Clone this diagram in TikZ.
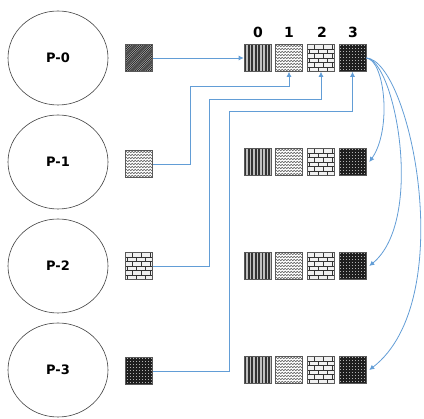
\documentclass[tikz,border=0pt]{standalone}
\usepackage{fontspec}
\setmainfont{DejaVu Sans}
\usetikzlibrary{arrows.meta,decorations.pathmorphing,shapes.geometric}

\definecolor{linkblue}{RGB}{98,157,214}

\tikzset{
  proc/.style={ellipse, draw=black!75, line width=0.6pt, minimum width=100pt,
    minimum height=94pt, inner sep=0pt, font=\fontsize{13}{15}\selectfont\bfseries},
  idx/.style={font=\fontsize{14}{16}\selectfont\bfseries, inner sep=0pt},
  tile/.style={draw=black!65, line width=0.6pt, minimum width=27pt, minimum height=27pt, inner sep=0pt},
  % vertical stripes
  stripes/.style={tile, fill=gray!50, path picture={
      \foreach \i in {0,...,7}
        \fill[black!80] ([xshift=\i*3.4pt+0.6pt]path picture bounding box.south west) rectangle ++(1.7pt,27pt);}},
  % wavy lines
  waves/.style={tile, fill=white, path picture={
      \foreach \j in {0,...,8}
        \draw[black!75, line width=0.4pt, decorate, decoration={zigzag, amplitude=0.9pt, segment length=3pt}]
          ([yshift=\j*3pt+1.5pt]path picture bounding box.south west) -- ++(27pt,0pt);}},
  % bricks
  bricks/.style={tile, fill=gray!12, path picture={
      \foreach \r in {0,...,5} {
        \draw[black!80, line width=0.8pt] ([yshift=\r*4.5pt]path picture bounding box.south west) -- ++(27pt,0pt);
      }
      \foreach \r in {0,2,4} \foreach \c in {0,...,3}
        \draw[black!80, line width=0.8pt] ([xshift=\c*9pt+2pt, yshift=\r*4.5pt]path picture bounding box.south west) -- ++(0pt,4.5pt);
      \foreach \r in {1,3,5} \foreach \c in {0,...,3}
        \draw[black!80, line width=0.8pt] ([xshift=\c*9pt+6.5pt, yshift=\r*4.5pt]path picture bounding box.south west) -- ++(0pt,4.5pt);}},
  % dark dotted grid
  darkgrid/.style={tile, fill=black!88, path picture={
      \foreach \i in {0,...,8} \foreach \j in {0,...,8}
        \fill[gray!60] ([xshift=\i*3pt+1pt, yshift=\j*3pt+1pt]path picture bounding box.south west) rectangle ++(1pt,1pt);}},
  % diagonal stripes
  diagonal/.style={tile, fill=gray!45, path picture={
      \foreach \k in {-14,...,12}
        \draw[black!85, line width=0.9pt] ([xshift=\k*2.2pt]path picture bounding box.south west) -- ++(27pt,27pt);}},
  conn/.style={draw=linkblue, line width=0.8pt, -{Latex[length=5pt,width=5pt]}},
}

\begin{document}
\begin{tikzpicture}[x=1pt, y=-1pt]
  \useasboundingbox (0,0) rectangle (424,419);

  % processes
  \node[proc] (p0) at (58,58)  {P-0};
  \node[proc] (p1) at (58,162) {P-1};
  \node[proc] (p2) at (58,266) {P-2};
  \node[proc] (p3) at (58,370) {P-3};

  % data held by each process
  \node[diagonal] (s0) at (139,58)  {};
  \node[waves]    (s1) at (139,164) {};
  \node[bricks]   (s2) at (139,266) {};
  \node[darkgrid] (s3) at (139,371) {};

  % gathered buffers, one row per process
  \foreach \r/\y in {0/58, 1/162, 2/266, 3/370} {
    \node[stripes]  (b\r0) at (257.5,\y) {};
    \node[waves]    (b\r1) at (289,\y)   {};
    \node[bricks]   (b\r2) at (321,\y)   {};
    \node[darkgrid] (b\r3) at (352.5,\y) {};
  }

  % buffer indices
  \node[idx] at (258,32) {0};
  \node[idx] at (289,32) {1};
  \node[idx] at (322,32) {2};
  \node[idx] at (353,32) {3};

  % gather into P-0
  \coordinate (k1) at (190,86);
  \coordinate (k2) at (209,99);
  \coordinate (k3) at (229,111);
  \draw[conn] (s0.east) -- (b00.west);
  \draw[conn] (s1.east) -| (k1) -| (b01.south);
  \draw[conn] (s2.east) -| (k2) -| (b02.south);
  \draw[conn] (s3.east) -| (k3) -| (b03.south);

  % broadcast of the gathered buffer
  \draw[conn] (b03.east) .. controls (385,60) and (392,130) .. ([xshift=3pt]b13.east);
  \draw[conn] (b03.east) .. controls (395,60) and (425,220) .. ([xshift=3pt]b23.east);
  \draw[conn] (b03.east) .. controls (410,60) and (460,300) .. ([xshift=3pt]b33.east);
\end{tikzpicture}
\end{document}
